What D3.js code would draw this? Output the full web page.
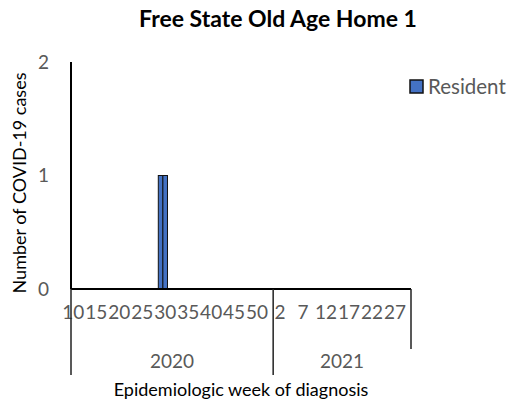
<!DOCTYPE html>
<html><head><meta charset="utf-8">
<script src="https://cdn.jsdelivr.net/npm/d3@7"></script>
<style>body{margin:0;background:#fff}svg{display:block}</style>
</head><body>
<script>
// Data
const weeks2020 = d3.range(10, 54);   // 2020 weeks 10..53
const weeks2021 = d3.range(1, 31);    // 2021 weeks 1..30
const years = ["2020", "2021"];
const caseWeeks2020 = [29, 30];       // weeks with cases in 2020
const caseValues2020 = [1, 1];
const yTicks = [0, 1, 2];
const seriesName = "Resident";
const title = "Free State Old Age Home 1";
const yTitle = "Number of COVID-19 cases";
const xTitle = "Epidemiologic week of diagnosis";

const cats = [
  ...weeks2020.map(w => ({year: "2020", week: w})),
  ...weeks2021.map(w => ({year: "2021", week: w}))
];
cats.forEach((c, i) => {
  c.key = c.year + "-" + c.week;
  c.idx = i;
  const k = caseWeeks2020.indexOf(c.week);
  c.value = (c.year === "2020" && k >= 0) ? caseValues2020[k] : 0;
});

const W = 510, H = 408;
const m = {left: 71, right: 99, top: 62, bottom: 119};
const svg = d3.select("body").append("svg").attr("width", W).attr("height", H);
const font = "Lato, 'Open Sans', sans-serif";

const x = d3.scaleBand().domain(cats.map(c => c.key)).range([m.left, W - m.right]).padding(0);
const y = d3.scaleLinear().domain([0, 2]).range([H - m.bottom, m.top]);

// Title
svg.append("text").attr("x", 278).attr("y", 27).attr("text-anchor", "middle")
  .attr("font-family", font).attr("font-weight", "bold").attr("font-size", 23).attr("fill", "#000")
  .text(title);

// Bars
svg.append("g").selectAll("rect").data(cats.filter(c => c.value > 0)).join("rect")
  .attr("x", c => x(c.key)).attr("width", x.bandwidth())
  .attr("y", c => y(c.value)).attr("height", c => y(0) - y(c.value))
  .attr("fill", "#4472C4").attr("stroke", "#111").attr("stroke-width", 1);

// Y axis
const yAxis = d3.axisLeft(y).tickValues(yTicks).tickFormat(d3.format("d")).tickSize(0).tickPadding(22);
const gy = svg.append("g").attr("transform", `translate(${m.left},0)`).call(yAxis);
gy.select(".domain").remove();
gy.selectAll("text").attr("font-family", font).attr("font-size", 19).attr("fill", "#595959");
svg.append("line").attr("x1", m.left).attr("x2", m.left).attr("y1", y(2)).attr("y2", y(0))
  .attr("stroke", "#000").attr("stroke-width", 2);

// X axis (weeks)
const labelled = cats.filter(c => c.idx % 5 === 0);
const xAxis = d3.axisBottom(x).tickValues(labelled.map(c => c.key))
  .tickFormat(k => k.split("-")[1]).tickSize(0).tickPadding(17);
const gx = svg.append("g").attr("transform", `translate(0,${y(0)})`).call(xAxis);
gx.select(".domain").remove();
gx.selectAll("text").attr("font-family", font).attr("font-size", 19).attr("fill", "#595959");
svg.append("line").attr("x1", m.left).attr("x2", W - m.right).attr("y1", y(0)).attr("y2", y(0))
  .attr("stroke", "#000").attr("stroke-width", 2);

// Year group boxes
const yearStart = yr => x(cats.find(c => c.year === yr).key);
const yearEnd = yr => { const cs = cats.filter(c => c.year === yr); return x(cs[cs.length - 1].key) + x.bandwidth(); };
const boundaries = [yearStart("2020"), yearStart("2021"), yearEnd("2021")];
const boxBottom = [375, 375, 349];
svg.append("g").selectAll("line").data(boundaries).join("line")
  .attr("x1", d => d).attr("x2", d => d).attr("y1", y(0)).attr("y2", (d, i) => boxBottom[i])
  .attr("stroke", "#222").attr("stroke-width", 1.5);
svg.append("g").selectAll("text").data(years).join("text")
  .attr("x", yr => (yearStart(yr) + yearEnd(yr)) / 2).attr("y", 368)
  .attr("text-anchor", "middle").attr("font-family", font).attr("font-size", 19).attr("fill", "#595959")
  .text(d => d);

// Axis titles
svg.append("text").attr("x", 241).attr("y", 396).attr("text-anchor", "middle")
  .attr("font-family", font).attr("font-size", 18).attr("fill", "#000").text(xTitle);
svg.append("text").attr("transform", "translate(26,183) rotate(-90)").attr("text-anchor", "middle")
  .attr("font-family", font).attr("font-size", 18).attr("fill", "#000").text(yTitle);

// Legend
const lg = svg.append("g").attr("transform", "translate(410,80)");
lg.append("rect").attr("x", 0).attr("y", 0).attr("width", 13).attr("height", 13)
  .attr("fill", "#4472C4").attr("stroke", "#111").attr("stroke-width", 1.5);
lg.append("text").attr("x", 18).attr("y", 13.5).attr("font-family", font).attr("font-size", 20.5)
  .attr("fill", "#595959").text(seriesName);
</script>
</body></html>
